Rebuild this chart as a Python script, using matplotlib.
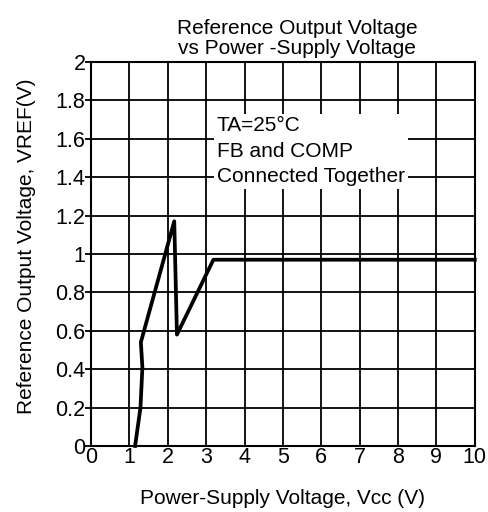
import matplotlib
matplotlib.use("Agg")
import matplotlib.pyplot as plt

plt.rcParams['font.family'] = ['Liberation Sans', 'DejaVu Sans']

# curve (Vcc in V, Vref in V)
vcc = [1.15, 1.29, 1.34, 1.30, 2.17, 2.24, 3.19, 10.0]
vref = [0.0, 0.20, 0.41, 0.54, 1.17, 0.58, 0.97, 0.97]

x_ticks = [0, 1, 2, 3, 4, 5, 6, 7, 8, 9, 10]
y_ticks = [0, 0.2, 0.4, 0.6, 0.8, 1.0, 1.2, 1.4, 1.6, 1.8, 2.0]
y_labels = ['0', '0.2', '0.4', '0.6', '0.8', '1', '1.2', '1.4', '1.6', '1.8', '2']

fig = plt.figure(figsize=(4.89, 5.12), dpi=100)
ax = fig.add_axes([0.186, 0.129, 0.785, 0.750])

ax.set_xlim(0, 10)
ax.set_ylim(0, 2)
ax.set_xticks(x_ticks)
ax.set_yticks(y_ticks)
ax.set_yticklabels(y_labels)
ax.grid(True, color='black', linewidth=1.3)
for s in ax.spines.values():
    s.set_linewidth(1.5)
ax.tick_params(axis='y', length=4, width=1.3, pad=0, labelsize=15.5)
ax.tick_params(axis='x', length=0, pad=1, labelsize=15.5)

ax.plot(vcc, vref, color='black', linewidth=2.7, clip_on=False, zorder=3)

# note box hides the grid behind it
ax.text(3.28, 1.535, "TA=25°C\nFB and COMP\nConnected Together",
        fontsize=15, linespacing=1.42, va='center', ha='left', zorder=4,
        bbox=dict(facecolor='white', edgecolor='none', pad=2))

ax.set_title("Reference Output Voltage\nvs Power -Supply Voltage", fontsize=15, pad=6,
             x=0.537, linespacing=1.05)
ax.set_xlabel("Power-Supply Voltage, Vcc (V)", fontsize=15, labelpad=15)
ax.set_ylabel("Reference Output Voltage, VREF(V)", fontsize=15, labelpad=14, y=0.52)

fig.savefig("out.png", dpi=100)
